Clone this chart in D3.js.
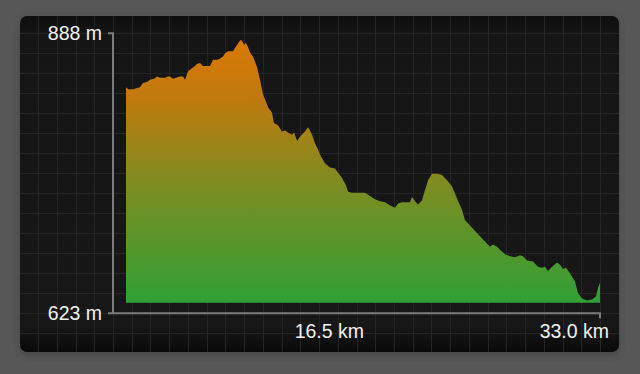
<!DOCTYPE html>
<html>
<head>
<meta charset="utf-8">
<script src="https://cdn.jsdelivr.net/npm/d3@7/dist/d3.min.js"></script>
<style>
html,body{margin:0;padding:0;background:#575757;}
svg{display:block;}
</style>
</head>
<body>
<svg id="chart" width="640" height="374"></svg>
<script>
// Distance along the route (km)
const distances = [0.00,0.14,0.49,0.70,0.97,1.18,1.46,1.67,1.95,2.16,2.37,2.58,2.72,2.92,3.06,3.27,3.48,3.76,3.97,4.11,4.32,4.59,4.80,4.94,5.15,5.36,5.64,5.85,6.06,6.34,6.54,6.75,6.89,7.10,7.45,7.59,7.73,7.87,8.01,8.15,8.22,8.35,8.49,8.63,8.84,9.12,9.33,9.54,9.75,9.89,10.16,10.30,10.58,10.86,11.07,11.28,11.56,11.70,11.91,12.11,12.46,12.67,12.81,12.95,13.16,13.37,13.51,13.85,14.20,14.55,14.76,15.04,15.32,15.46,15.73,16.29,16.64,16.99,17.33,17.68,18.03,18.38,18.73,18.94,19.22,19.77,19.91,20.12,20.33,20.61,20.82,21.03,21.30,21.65,22.00,22.35,22.70,23.04,23.39,23.60,23.95,24.30,24.65,24.99,25.34,25.55,25.83,26.04,26.39,26.73,27.08,27.43,27.64,27.92,28.34,28.68,28.96,29.17,29.38,29.66,30.01,30.22,30.42,30.63,30.91,31.26,31.47,31.75,32.09,32.44,32.72,32.86,33.00];
// Elevation (m)
const elevations = [837,835,835,836,837,841,842,844,845,847,846,846,846,847,847,845,846,847,847,844,852,855,857,859,860,857,857,857,863,863,864,866,869,871,871,874,877,880,882,879,877,879,875,870,866,856,844,830,823,818,813,803,801,795,796,794,792,794,786,790,795,799,796,792,784,778,773,765,761,760,756,751,744,738,737,737,737,734,731,729,728,725,723,727,728,728,733,729,726,730,740,749,755,755,754,749,743,732,721,711,706,701,696,691,686,688,686,683,679,677,676,678,677,673,672,667,666,667,663,667,671,669,665,666,661,653,642,637,635,636,639,647,652];
const baseElevation = 633;
const yTickValues = [888, 623];
const xTickValues = [16.5, 33.0];

const data = distances.map((d, i) => ({d, e: elevations[i]}));

const svg = d3.select("#chart");
const panel = {x: 20, y: 16, w: 599, h: 336, r: 7};
const box = {left: 113, right: 600, top: 33.3, bottom: 313.3};
const plotLeft = 126;

const x = d3.scaleLinear().domain([0, 33]).range([plotLeft, box.right]);
const y = d3.scaleLinear().domain([623, 888]).range([box.bottom, box.top]);

const defs = svg.append("defs");
const pg = defs.append("linearGradient").attr("id", "panelGrad").attr("x1", 0).attr("y1", 0).attr("x2", 0).attr("y2", 1);
pg.append("stop").attr("offset", 0).attr("stop-color", "#0e0e0e");
pg.append("stop").attr("offset", 0.06).attr("stop-color", "#151515");
pg.append("stop").attr("offset", 0.92).attr("stop-color", "#171717");
pg.append("stop").attr("offset", 1).attr("stop-color", "#0a0a0a");

const ag = defs.append("linearGradient").attr("id", "areaGrad")
  .attr("gradientUnits", "userSpaceOnUse")
  .attr("x1", 0).attr("x2", 0)
  .attr("y1", y(888)).attr("y2", y(baseElevation));
ag.append("stop").attr("offset", 0).attr("stop-color", "rgb(222,120,2)");
ag.append("stop").attr("offset", 0.25).attr("stop-color", "rgb(190,122,14)");
ag.append("stop").attr("offset", 0.55).attr("stop-color", "rgb(128,140,32)");
ag.append("stop").attr("offset", 1).attr("stop-color", "rgb(48,160,54)");

const sh = defs.append("filter").attr("id", "shadow").attr("x", "-5%").attr("y", "-5%").attr("width", "110%").attr("height", "115%");
sh.append("feGaussianBlur").attr("stdDeviation", 3);

const clip = defs.append("clipPath").attr("id", "panelClip");
clip.append("rect").attr("x", panel.x).attr("y", panel.y).attr("width", panel.w).attr("height", panel.h).attr("rx", panel.r);

// shadow + panel
svg.append("rect").attr("x", panel.x).attr("y", panel.y + 3).attr("width", panel.w).attr("height", panel.h)
  .attr("rx", panel.r).attr("fill", "#3a3a3a").attr("opacity", 0.6).attr("filter", "url(#shadow)");
svg.append("rect").attr("x", panel.x).attr("y", panel.y).attr("width", panel.w).attr("height", panel.h)
  .attr("rx", panel.r).attr("fill", "url(#panelGrad)");

// grid
const gx = (box.right - box.left) / 26;
const gy = (box.bottom - box.top) / 14;
const grid = svg.append("g").attr("clip-path", "url(#panelClip)").attr("stroke", "#252525").attr("stroke-width", 1);
const vx = d3.range(-40, 40).map(k => box.right - k * gx).filter(v => v > panel.x && v < panel.x + panel.w);
const hy = d3.range(-40, 40).map(k => box.top + k * gy).filter(v => v > panel.y && v < panel.y + panel.h);
grid.selectAll("line.v").data(vx).join("line").attr("class", "v")
  .attr("x1", d => Math.round(d) + 0.5).attr("x2", d => Math.round(d) + 0.5)
  .attr("y1", panel.y).attr("y2", panel.y + panel.h);
grid.selectAll("line.h").data(hy).join("line").attr("class", "h")
  .attr("y1", d => Math.round(d) + 0.5).attr("y2", d => Math.round(d) + 0.5)
  .attr("x1", panel.x).attr("x2", panel.x + panel.w);

// area
const area = d3.area().x(p => x(p.d)).y0(y(baseElevation)).y1(p => y(p.e)).curve(d3.curveLinear);
svg.append("path").datum(data).attr("d", area).attr("fill", "url(#areaGrad)");

// axes bracket
const axisColor = "#7c7c7c";
const ax = svg.append("g").attr("stroke", axisColor).attr("stroke-width", 2).attr("fill", "none");
ax.append("path").attr("d", `M${box.left - 5},${y(888)}H${box.left}V${y(623)}`);
ax.append("path").attr("d", `M${box.left - 5},${y(623)}H${x(33)}V${y(623) + 5}`);

// labels
const font = "'Liberation Sans', Arial, Helvetica, sans-serif";
svg.append("g").selectAll("text").data(yTickValues).join("text")
  .attr("x", box.left - 11).attr("y", d => y(d)).attr("dy", "0.36em")
  .attr("text-anchor", "end").attr("fill", "#f2f2f2")
  .style("font-family", font).style("font-size", "19.5px")
  .text(d => d + " m");

svg.append("g").selectAll("text").data(xTickValues).join("text")
  .attr("x", (d, i) => x(d) + (i === xTickValues.length - 1 ? 9 : 1))
  .attr("y", y(623) + 25)
  .attr("text-anchor", "end").attr("fill", "#f2f2f2")
  .style("font-family", font).style("font-size", "19.5px")
  .text(d => d3.format(".1f")(d) + " km");
</script>
</body>
</html>
